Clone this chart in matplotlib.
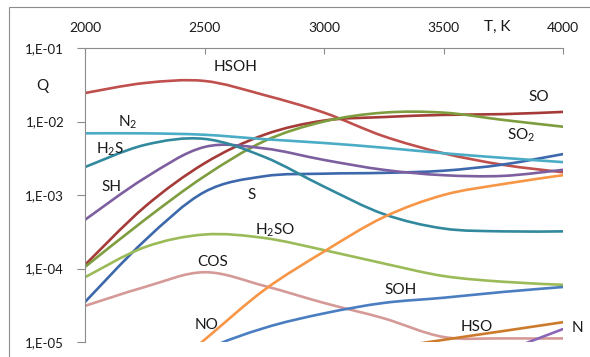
import numpy as np
import matplotlib
matplotlib.use('Agg')
import matplotlib.pyplot as plt
from matplotlib.path import Path
from matplotlib.patches import PathPatch, Rectangle
from matplotlib.ticker import FixedLocator, FuncFormatter, NullLocator

plt.rcParams['font.family'] = ['Lato', 'DejaVu Sans']
plt.rcParams['mathtext.fontset'] = 'custom'
plt.rcParams['mathtext.rm'] = 'Lato'
plt.rcParams['mathtext.it'] = 'Lato'

# temperature grid, K
T = [2000, 2250, 2500, 2750, 3000, 3250, 3500, 3750, 4000]

# mole fractions Q of the species
HSOH = [2.44e-2, 3.34e-2, 3.56e-2, 2.29e-2, 1.32e-2, 6.3e-3, 3.7e-3, 2.57e-3, 2.04e-3]
SO = [1.12e-4, 6.9e-4, 2.7e-3, 6.6e-3, 1.03e-2, 1.15e-2, 1.23e-2, 1.26e-2, 1.35e-2]
SO2 = [1.05e-4, 4.6e-4, 1.8e-3, 5.4e-3, 1.0e-2, 1.32e-2, 1.32e-2, 1.05e-2, 8.5e-3]
S = [3.5e-5, 2.4e-4, 1.1e-3, 1.8e-3, 1.95e-3, 2.0e-3, 2.14e-3, 2.6e-3, 3.6e-3]
SH = [4.6e-4, 1.7e-3, 4.5e-3, 4.3e-3, 3.0e-3, 2.2e-3, 1.86e-3, 1.82e-3, 2.2e-3]
N2 = [6.9e-3, 6.9e-3, 6.6e-3, 5.75e-3, 5.1e-3, 4.4e-3, 3.7e-3, 3.2e-3, 2.8e-3]
H2S = [2.4e-3, 4.8e-3, 5.8e-3, 3.3e-3, 1.3e-3, 5.5e-4, 3.5e-4, 3.2e-4, 3.2e-4]
H2SO = [7.6e-5, 1.95e-4, 2.9e-4, 2.6e-4, 1.78e-4, 1.17e-4, 7.9e-5, 6.6e-5, 6.0e-5]
COS = [3.1e-5, 5.6e-5, 8.9e-5, 5.8e-5, 3.4e-5, 2.1e-5, 1.17e-5, 1.12e-5, 1.12e-5]
NO = [None, 2.2e-6, 1.07e-5, 5.1e-5, 1.7e-4, 5.0e-4, 1.0e-3, 1.41e-3, 1.86e-3]
SOH = [None, 2.2e-6, 7.6e-6, 1.55e-5, 2.45e-5, 3.4e-5, 4.0e-5, 4.8e-5, 5.6e-5]
HSO = [None, None, None, None, 5.0e-6, 7.9e-6, 1.07e-5, 1.41e-5, 1.86e-5]
N = [None, None, None, None, None, None, 2.5e-6, 7.1e-6, 1.5e-5]

series = [
    (HSOH, '#C0504D'), (SO, '#A53B38'), (SO2, '#7E9D3E'), (S, '#3D69AC'),
    (SH, '#7D5FA0'), (N2, '#4BACC6'), (H2S, '#32899E'), (H2SO, '#9BBB59'),
    (COS, '#D59A98'), (NO, '#F79646'), (SOH, '#4A7EC1'), (HSO, '#CC7A2C'),
    (N, '#8B66B8'),
]

# label text, T, Q
labels = [
    ('HSOH', 2628, 5.5e-2), ('N$_2$', 2180, 9.8e-3), ('H$_2$S', 2105, 4.2e-3),
    ('SH', 2109, 1.28e-3), ('S', 2699, 1.0e-3), ('H$_2$SO', 2795, 3.35e-4),
    ('COS', 2536, 1.22e-4), ('NO', 2510, 1.7e-5), ('SOH', 3322, 5.1e-5),
    ('HSO', 3640, 1.6e-5), ('N', 4059, 1.55e-5), ('SO', 3900, 2.15e-2),
    ('SO$_2$', 3824, 6.5e-3),
]


def smooth_path(xs, ys):
    """Smoothed line through the points, bezier segments built in log-y space."""
    pts = [(x, np.log10(y)) for x, y in zip(xs, ys) if y is not None]
    p = np.array(pts)
    n = len(p)
    verts = [p[0]]
    codes = [Path.MOVETO]
    for i in range(n - 1):
        p0 = p[i - 1] if i > 0 else p[i]
        p3 = p[i + 2] if i + 2 < n else p[i + 1]
        c1 = p[i] + (p[i + 1] - p0) / 6.0
        c2 = p[i + 1] - (p3 - p[i]) / 6.0
        verts += [c1, c2, p[i + 1]]
        codes += [Path.CURVE4] * 3
    verts = np.array(verts)
    verts[:, 1] = 10 ** verts[:, 1]
    return Path(verts, codes)


fig = plt.figure(figsize=(5.9, 3.57), dpi=100)
fig.patches.append(Rectangle((9 / 590, -0.05), 1.0, 1 - 7 / 357 + 0.05,
                             transform=fig.transFigure, fill=False,
                             edgecolor='#8C8C8C', linewidth=0.8))
ax = fig.add_axes([85 / 590, 1 - 342 / 357, 478 / 590, 294 / 357])
ax.set_yscale('log')
ax.set_xlim(2000, 4000)
ax.set_ylim(1e-5, 1e-1)

for vals, color in series:
    ax.add_patch(PathPatch(smooth_path(T, vals), facecolor='none',
                           edgecolor=color, linewidth=1.9,
                           capstyle='round', joinstyle='round'))

for txt, x, y in labels:
    ax.text(x, y, txt, fontsize=11, ha='center', va='center', color='#1a1a1a')

ax.text(-0.09, 0.871, 'Q', transform=ax.transAxes, fontsize=11,
        ha='center', va='center', color='#1a1a1a')
ax.text(0.862, 1.071, 'T, K', transform=ax.transAxes, fontsize=11,
        ha='center', va='center', color='#1a1a1a')

ax.xaxis.tick_top()
ax.set_xticks([2000, 2500, 3000, 3500, 4000])
ax.tick_params(axis='x', direction='in', length=4, color='#8C8C8C',
               labelsize=10, pad=10, labelcolor='#1a1a1a')
ax.yaxis.set_major_locator(FixedLocator([1e-5, 1e-4, 1e-3, 1e-2, 1e-1]))
ax.yaxis.set_minor_locator(NullLocator())
ax.yaxis.set_major_formatter(FuncFormatter(
    lambda v, pos: '1,E-%02d' % round(-np.log10(v))))
ax.tick_params(axis='y', direction='out', length=6, color='#8C8C8C',
               labelsize=9.5, pad=9, labelcolor='#1a1a1a')

for side in ['right', 'bottom']:
    ax.spines[side].set_visible(False)
for side in ['left', 'top']:
    ax.spines[side].set_color('#8C8C8C')
    ax.spines[side].set_linewidth(0.8)

fig.savefig('out.png', dpi=100)
